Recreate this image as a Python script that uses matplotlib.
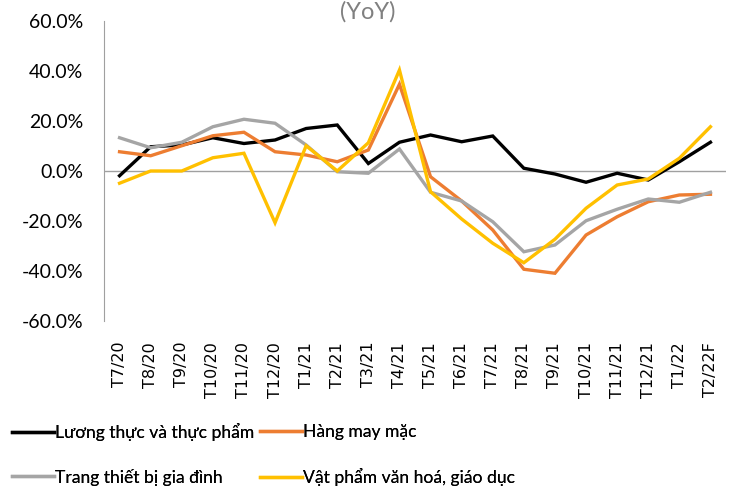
import matplotlib
matplotlib.use('Agg')
import matplotlib.pyplot as plt
from matplotlib.ticker import FuncFormatter

months = ["T7/20", "T8/20", "T9/20", "T10/20", "T11/20", "T12/20", "T1/21", "T2/21",
          "T3/21", "T4/21", "T5/21", "T6/21", "T7/21", "T8/21", "T9/21", "T10/21",
          "T11/21", "T12/21", "T1/22", "T2/22F"]

luong_thuc = [-1.9, 9.7, 10.4, 13.3, 11.0, 12.4, 17.0, 18.4, 3.0, 11.5,
              14.4, 11.7, 14.0, 1.1, -1.2, -4.5, -0.9, -3.6, 3.7, 11.5]
may_mac = [7.7, 6.1, 10.1, 14.1, 15.5, 7.7, 6.4, 3.7, 8.4, 34.7,
           -2.3, -12.0, -23.6, -39.3, -40.9, -25.6, -18.3, -12.3, -9.6, -9.3]
thiet_bi = [13.3, 9.3, 11.5, 17.7, 20.7, 19.1, 10.4, -0.3, -0.9, 8.8,
            -8.5, -12.0, -20.3, -32.3, -29.6, -19.9, -15.3, -11.2, -12.5, -8.5]
van_hoa = [-4.9, 0.0, 0.0, 5.3, 7.1, -20.7, 10.1, 0.0, 11.3, 40.4,
           -8.3, -19.2, -28.9, -36.7, -27.3, -14.9, -5.6, -3.2, 5.1, 17.7]

labels = ["Lương thực và thực phẩm", "Hàng may mặc",
          "Trang thiết bị gia đình", "Vật phẩm văn hoá, giáo dục"]
colors = ["#000000", "#ED7D31", "#A5A5A5", "#FFC000"]

plt.rcParams['font.family'] = ['Lato', 'DejaVu Sans']

fig = plt.figure(figsize=(7.36, 4.91), dpi=100)
ax = fig.add_axes([104/736, 1 - 321/491, 622/736, 300/491])

x = range(len(months))
lines = []
for series, lab, c in zip([luong_thuc, may_mac, thiet_bi, van_hoa], labels, colors):
    ln, = ax.plot(x, series, color=c, lw=2.4, label=lab, solid_joinstyle='miter')
    lines.append(ln)

ax.axhline(0, color="#A0A0A0", lw=1, zorder=0)
ax.set_ylim(-60, 60)
ax.set_yticks(range(-60, 61, 20))
ax.yaxis.set_major_formatter(FuncFormatter(lambda v, p: "%.1f%%" % v))
ax.set_xlim(-0.5, len(months) - 0.5)
ax.set_xticks(list(x))
ax.set_xticklabels(months, rotation=90)
ax.tick_params(axis='x', length=0, pad=15)
ax.tick_params(axis='y', length=0, labelsize=14, pad=15)
for t in ax.get_xticklabels():
    t.set_fontfamily('DejaVu Sans')
    t.set_fontsize(11.5)
for s in ['top', 'right', 'bottom']:
    ax.spines[s].set_visible(False)
ax.spines['left'].set_color("#A0A0A0")

fig.text(368/736, 1 - 1/491, "(YoY)", color="#808080", fontsize=17, ha='center', va='top')

# one legend per entry, placed like the 2x2 grid of the original
spots = [(12, 432), (260, 432), (12, 477), (260, 477)]
for ln, lab, (px, py) in zip(lines, labels, spots):
    leg = fig.legend([ln], [lab], loc='center left', bbox_to_anchor=(px/736, 1 - py/491),
                     frameon=False, fontsize=12.6,
                     handlelength=2.4, handletextpad=0.08, borderpad=0, borderaxespad=0)
    fig.add_artist(leg)

fig.savefig("out.png", dpi=100)
